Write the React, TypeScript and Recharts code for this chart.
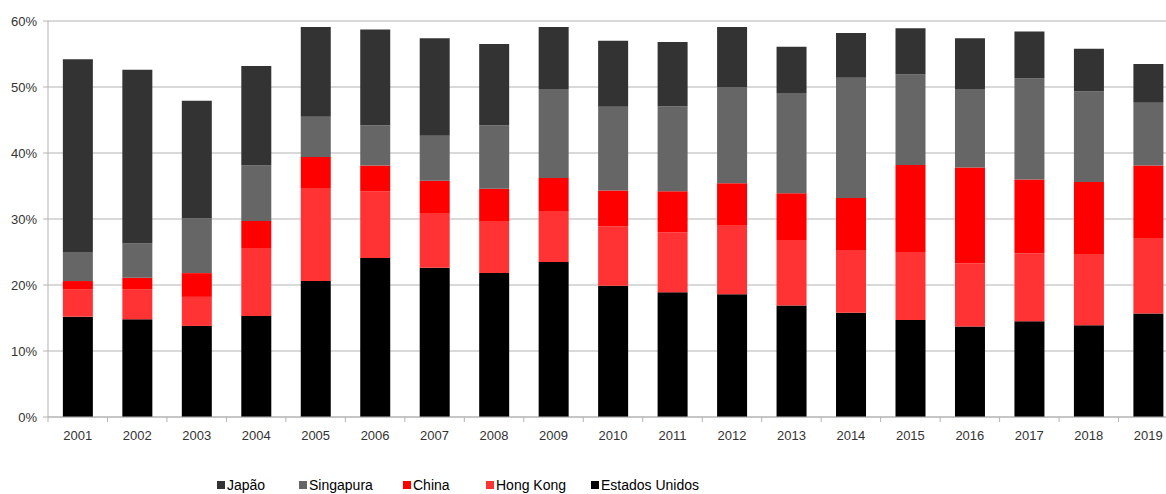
import React from "react";
import {
  BarChart,
  Bar,
  XAxis,
  YAxis,
  CartesianGrid,
} from "recharts";

// Anos (categorias)
const years = [
  "2001", "2002", "2003", "2004", "2005", "2006", "2007", "2008", "2009", "2010",
  "2011", "2012", "2013", "2014", "2015", "2016", "2017", "2018", "2019",
];

// Participação por país (%)
const estadosUnidos = [15.2, 14.8, 13.8, 15.3, 20.6, 24.1, 22.6, 21.8, 23.5, 19.9, 18.9, 18.6, 16.9, 15.8, 14.7, 13.7, 14.5, 13.9, 15.7];
const hongKong = [4.1, 4.5, 4.4, 10.2, 14.0, 10.1, 8.2, 7.9, 7.6, 9.0, 9.1, 10.5, 9.9, 9.4, 10.2, 9.6, 10.3, 10.8, 11.3];
const china = [1.3, 1.8, 3.6, 4.2, 4.8, 3.9, 5.0, 4.9, 5.1, 5.4, 6.2, 6.3, 7.1, 8.0, 13.3, 14.5, 11.2, 10.9, 11.1];
const singapura = [4.4, 5.2, 8.3, 8.4, 6.1, 6.1, 6.8, 9.6, 13.5, 12.7, 12.9, 14.6, 15.2, 18.2, 13.7, 11.9, 15.3, 13.7, 9.5];
const japao = [29.2, 26.3, 17.8, 15.1, 13.6, 14.5, 14.8, 12.3, 9.4, 10.0, 9.7, 9.1, 7.0, 6.8, 7.0, 7.7, 7.1, 6.5, 5.9];

const yTicks = [0, 10, 20, 30, 40, 50, 60];

// Séries (de baixo para cima na pilha)
const series = [
  { key: "estadosUnidos", name: "Estados Unidos", color: "#000000", values: estadosUnidos },
  { key: "hongKong", name: "Hong Kong", color: "#ff3333", values: hongKong },
  { key: "china", name: "China", color: "#ff0000", values: china },
  { key: "singapura", name: "Singapura", color: "#666666", values: singapura },
  { key: "japao", name: "Japão", color: "#333333", values: japao },
];

// Ordem da legenda
const legendOrder = ["japao", "singapura", "china", "hongKong", "estadosUnidos"];

const data = years.map((year, i) => {
  const row: Record<string, string | number> = { year };
  series.forEach((s) => {
    row[s.key] = s.values[i];
  });
  return row;
});

const FONT = "'Liberation Sans', Arial, sans-serif";
const AXIS_COLOR = "#b3b3b3";
const CHART_W = 1180;
const CHART_H = 494;
const PLOT_LEFT = 48;
const PLOT_RIGHT = 1178;
const BAND = (PLOT_RIGHT - PLOT_LEFT) / years.length;
const LEGEND_X = [217, 299, 403, 486, 591];

const XTick = (props: any) => {
  const { x, y, payload } = props;
  const bx = x - BAND / 2;
  return (
    <g>
      <line x1={bx} x2={bx} y1={y} y2={y + 5} stroke={AXIS_COLOR} />
      <text
        x={x}
        y={y + 23}
        textAnchor="middle"
        fill="#333333"
        fontSize={13}
        fontFamily={FONT}
      >
        {payload.value}
      </text>
    </g>
  );
};

const App: React.FC = () => {
  return (
    <div
      style={{
        position: "absolute",
        left: 0,
        top: 0,
        width: 1166,
        height: 494,
        overflow: "hidden",
        background: "#ffffff",
        fontFamily: FONT,
      }}
    >
      <BarChart
        width={CHART_W}
        height={CHART_H}
        data={data}
        margin={{ top: 21, right: CHART_W - PLOT_RIGHT, left: 0, bottom: 47 }}
        barCategoryGap="25%"
      >
        <CartesianGrid vertical={false} stroke={AXIS_COLOR} />
        <XAxis
          dataKey="year"
          height={30}
          stroke={AXIS_COLOR}
          tickLine={false}
          tickSize={0}
          tickMargin={0}
          interval={0}
          tick={<XTick />}
        />
        <YAxis
          width={PLOT_LEFT}
          domain={[0, 60]}
          ticks={yTicks}
          tickFormatter={(v: number) => `${v}%`}
          stroke={AXIS_COLOR}
          tickSize={5}
          tickMargin={6}
          tick={{ fill: "#333333", fontSize: 13, fontFamily: FONT }}
        />
        {series.map((s) => (
          <Bar
            key={s.key}
            dataKey={s.key}
            name={s.name}
            stackId="total"
            fill={s.color}
            isAnimationActive={false}
          />
        ))}
      </BarChart>

      {/* Legenda */}
      {legendOrder.map((k, i) => {
        const s = series.find((item) => item.key === k)!;
        return (
          <div
            key={k}
            style={{
              position: "absolute",
              left: LEGEND_X[i],
              top: 476,
              display: "flex",
              alignItems: "center",
              fontSize: 14,
              color: "#000000",
              lineHeight: "18px",
              whiteSpace: "nowrap",
            }}
          >
            <span
              style={{
                display: "inline-block",
                width: 8,
                height: 8,
                background: s.color,
                marginRight: 2,
              }}
            />
            {s.name}
          </div>
        );
      })}
    </div>
  );
};

export default App;
